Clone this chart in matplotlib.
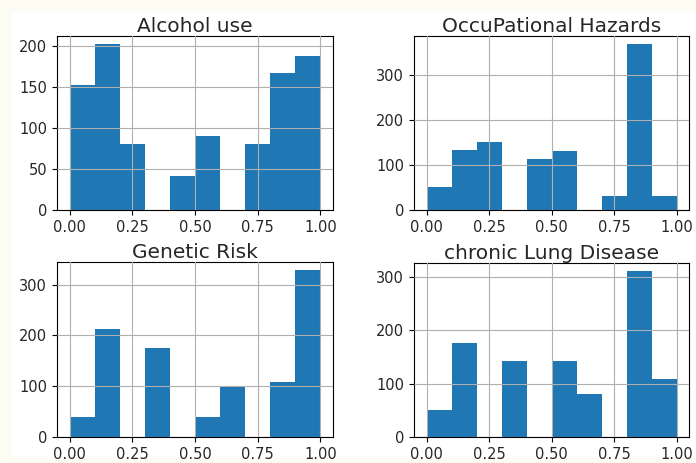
import numpy as np
import matplotlib
matplotlib.use("Agg")
import matplotlib.pyplot as plt
from matplotlib.patches import Rectangle

bin_edges = [0.0, 0.1, 0.2, 0.3, 0.4, 0.5, 0.6, 0.7, 0.8, 0.9, 1.0]
ticks = [0.0, 0.25, 0.5, 0.75, 1.0]

alcohol_use = [152, 202, 80, 0, 41, 90, 0, 80, 167, 188]
occupational_hazards = [50, 133, 152, 0, 113, 130, 0, 30, 368, 30]
genetic_risk = [40, 212, 0, 175, 0, 40, 100, 0, 108, 328]
chronic_lung = [50, 175, 0, 142, 0, 142, 80, 0, 310, 108]

titles = ["Alcohol use", "OccuPational Hazards", "Genetic Risk", "chronic Lung Disease"]
series = [alcohol_use, occupational_hazards, genetic_risk, chronic_lung]

fig = plt.figure(figsize=(6.96, 4.63), dpi=100, facecolor="#fdfcf2")
# white area of the screenshot
fig.patches.append(Rectangle((12 / 696, 5 / 463), 1, 1 - 16 / 463,
                             transform=fig.transFigure, facecolor="white",
                             edgecolor="none", zorder=-10))

positions = [
    [57 / 696, 1 - 210 / 463, 276 / 696, 174 / 463],
    [414 / 696, 1 - 210 / 463, 275 / 696, 174 / 463],
    [57 / 696, 1 - 437 / 463, 276 / 696, 175 / 463],
    [414 / 696, 1 - 437 / 463, 275 / 696, 174 / 463],
]

centers = [(bin_edges[i] + bin_edges[i + 1]) / 2 for i in range(10)]

for pos, title, counts in zip(positions, titles, series):
    ax = fig.add_axes(pos)
    ax.hist(centers, bins=bin_edges, weights=counts, color="#1f77b4", zorder=2)
    ax.set_title(title, fontsize=14.5, pad=2, color="#262626")
    ax.set_xticks(ticks)
    ax.set_xticklabels(["0.00", "0.25", "0.50", "0.75", "1.00"])
    ax.tick_params(labelsize=10.5, labelcolor="#262626")
    ax.grid(True, color="#b0b0b0", linewidth=0.8, zorder=3)
    ax.set_axisbelow(False)

fig.savefig("out.png", dpi=100, facecolor=fig.get_facecolor())
